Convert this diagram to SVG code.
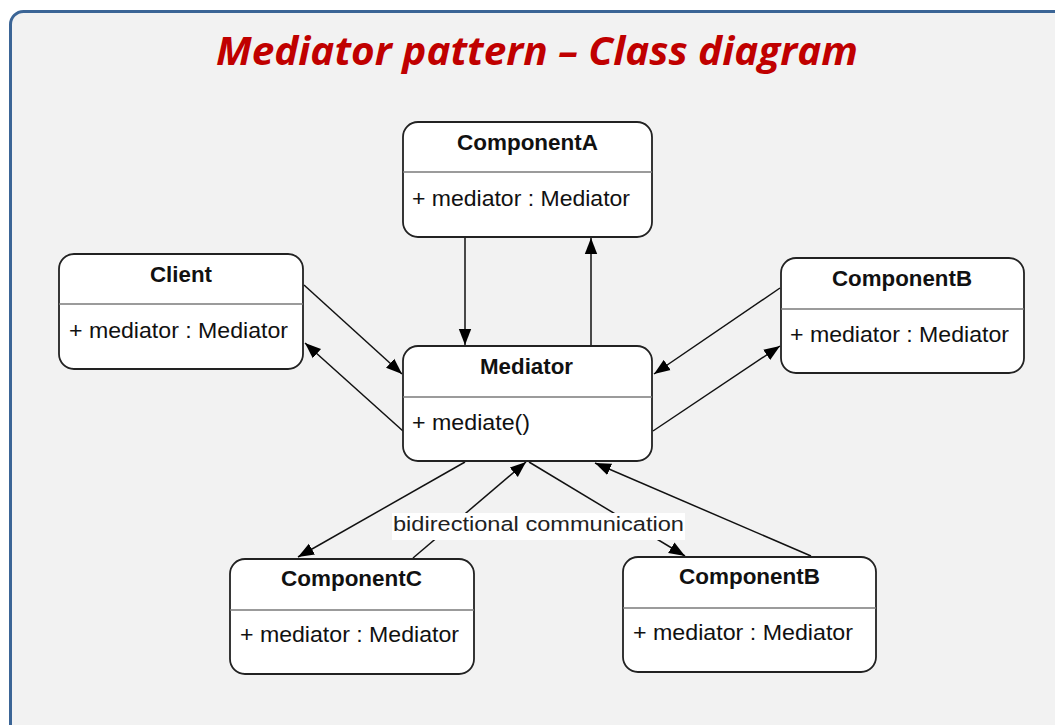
<svg xmlns="http://www.w3.org/2000/svg" width="1055" height="725" viewBox="0 0 1055 725">
  <style>
    .box { fill: #ffffff; stroke: #222222; stroke-width: 1.8; }
    .sep { stroke: #7a7a7a; stroke-width: 1.3; }
    .name { font-family: "Liberation Sans", Arial, sans-serif; font-weight: bold; font-size: 21.5px; fill: #111111; }
    .attr { font-family: "Liberation Sans", Arial, sans-serif; font-size: 21.5px; fill: #111111; }
    .edge { stroke: #111111; stroke-width: 1.5; fill: none; marker-end: url(#arrow); }
    .title { font-family: "Open Sans", "Noto Sans", sans-serif; font-weight: bold; font-style: italic; font-size: 40px; fill: #c00000; text-anchor: middle; }
    .label { font-family: "Liberation Sans", Arial, sans-serif; font-size: 20.5px; fill: #222222; }
  </style>
  <defs>
    <marker id="arrow" markerUnits="userSpaceOnUse" markerWidth="18" markerHeight="14" viewBox="0 0 18 14" refX="16" refY="7" orient="auto">
      <path d="M0,0.8 L16,7 L0,13.2 Z" fill="#000000"/>
    </marker>
  </defs>

  <!-- slide frame -->
  <rect x="0" y="0" width="1055" height="725" fill="#ffffff"/>
  <rect x="10.5" y="11.5" width="1100" height="760" rx="13" fill="#f2f2f2" stroke="#3b6596" stroke-width="3"/>

  <text class="title" x="537" y="65" textLength="642" lengthAdjust="spacingAndGlyphs">Mediator pattern – Class diagram</text>

  <!-- connectors -->
  <g id="connectors">
    <line class="edge" x1="465" y1="237" x2="465" y2="345"/>
    <line class="edge" x1="591" y1="346" x2="591" y2="238"/>
    <line class="edge" x1="304" y1="285" x2="402" y2="374"/>
    <line class="edge" x1="403" y1="431" x2="305" y2="343"/>
    <line class="edge" x1="780" y1="288" x2="654" y2="374"/>
    <line class="edge" x1="653" y1="431" x2="780" y2="346"/>
    <line class="edge" x1="465" y1="462" x2="298" y2="557"/>
    <line class="edge" x1="413" y1="558" x2="526" y2="462"/>
    <line class="edge" x1="529" y1="462" x2="685" y2="556"/>
    <line class="edge" x1="811" y1="556" x2="595" y2="463"/>
    <rect x="392" y="513" width="293" height="27" fill="#ffffff"/>
    <text class="label" x="393" y="531" textLength="291" lengthAdjust="spacingAndGlyphs">bidirectional communication</text>
  </g>

  <g id="componentA">
    <rect class="box" x="403" y="122" width="249" height="115" rx="15"/>
    <line class="sep" x1="403" y1="172" x2="652" y2="172"/>
    <text class="name" x="457" y="150" textLength="141" lengthAdjust="spacingAndGlyphs">ComponentA</text>
    <text class="attr" x="412" y="206" textLength="218" lengthAdjust="spacingAndGlyphs">+ mediator : Mediator</text>
  </g>

  <g id="client">
    <rect class="box" x="59" y="254" width="244" height="115" rx="15"/>
    <line class="sep" x1="59" y1="304" x2="303" y2="304"/>
    <text class="name" x="150" y="282" textLength="62" lengthAdjust="spacingAndGlyphs">Client</text>
    <text class="attr" x="69" y="338" textLength="219" lengthAdjust="spacingAndGlyphs">+ mediator : Mediator</text>
  </g>

  <g id="componentB-right">
    <rect class="box" x="781" y="258" width="243" height="115" rx="15"/>
    <line class="sep" x1="781" y1="309" x2="1024" y2="309"/>
    <text class="name" x="832" y="286" textLength="140" lengthAdjust="spacingAndGlyphs">ComponentB</text>
    <text class="attr" x="790" y="342" textLength="219" lengthAdjust="spacingAndGlyphs">+ mediator : Mediator</text>
  </g>

  <g id="mediator">
    <rect class="box" x="403" y="346" width="249" height="115" rx="15"/>
    <line class="sep" x1="403" y1="397" x2="652" y2="397"/>
    <text class="name" x="480" y="374" textLength="93" lengthAdjust="spacingAndGlyphs">Mediator</text>
    <text class="attr" x="412" y="430" textLength="118" lengthAdjust="spacingAndGlyphs">+ mediate()</text>
  </g>

  <g id="componentC">
    <rect class="box" x="230" y="559" width="244" height="115" rx="15"/>
    <line class="sep" x1="230" y1="610" x2="474" y2="610"/>
    <text class="name" x="281" y="586" textLength="141" lengthAdjust="spacingAndGlyphs">ComponentC</text>
    <text class="attr" x="240" y="642" textLength="219" lengthAdjust="spacingAndGlyphs">+ mediator : Mediator</text>
  </g>

  <g id="componentB-bottom">
    <rect class="box" x="623" y="557" width="253" height="115" rx="15"/>
    <line class="sep" x1="623" y1="608" x2="876" y2="608"/>
    <text class="name" x="679" y="584" textLength="141" lengthAdjust="spacingAndGlyphs">ComponentB</text>
    <text class="attr" x="633" y="640" textLength="220" lengthAdjust="spacingAndGlyphs">+ mediator : Mediator</text>
  </g>
</svg>
